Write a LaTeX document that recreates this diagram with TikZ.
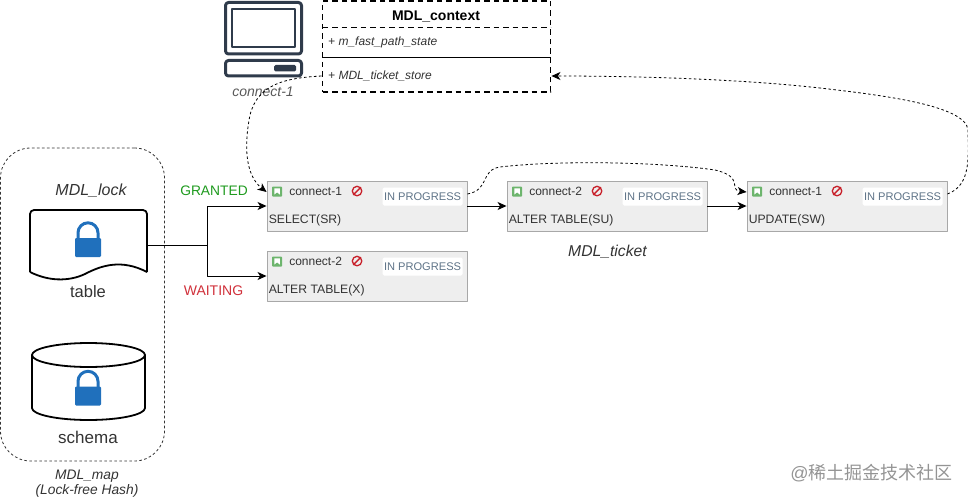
\documentclass[tikz,border=0pt]{standalone}
\usepackage{fontspec}
\setmainfont{Liberation Sans}
\newfontfamily\cjkfont{Noto Sans CJK SC}
\usetikzlibrary{calc,arrows.meta}
\definecolor{cardfill}{HTML}{EEEEEE}
\definecolor{cardline}{HTML}{A8A8A8}
\definecolor{statustext}{HTML}{5E7387}
\definecolor{iconGreen}{HTML}{6DB56D}
\definecolor{stopred}{HTML}{C8202A}
\definecolor{lockblue}{HTML}{2070BC}
\definecolor{screenline}{HTML}{2F3B4B}
\definecolor{grantgreen}{HTML}{1E9A1E}
\definecolor{waitred}{HTML}{D0303A}
\definecolor{darktext}{HTML}{333333}
\tikzset{
  ticketcard/.style={draw=cardline,fill=cardfill,line width=0.9pt,minimum width=200pt,minimum height=50pt,inner sep=0pt},
  statusbox/.style={fill=white,rounded corners=1.5pt,minimum width=80pt,minimum height=18pt,inner sep=0pt,font=\fontsize{11.1}{12}\selectfont,text=statustext},
  iconbox/.style={fill=iconGreen,rounded corners=0.8pt,minimum size=10pt,inner sep=0pt},
  stopsign/.style={circle,draw=stopred,line width=1.3pt,minimum size=9.5pt,inner sep=0pt},
  lockbody/.style={fill=lockblue,rounded corners=1.2pt,minimum width=26pt,minimum height=19pt,inner sep=0pt},
  solidarrow/.style={line width=0.9pt,-{Stealth[length=9pt,width=8pt,inset=2.5pt]}},
  dasharrow/.style={line width=0.8pt,dash pattern=on 2.6pt off 2.4pt,-{Stealth[length=9pt,width=8pt,inset=2.5pt]}},
}
\begin{document}
\begin{tikzpicture}[x=1pt,y=-1pt,line cap=butt,line join=round]
  \useasboundingbox (0,0) rectangle (968,500);
  % map container
  \node[draw=black!80,line width=0.8pt,dash pattern=on 2.6pt off 2.4pt,rounded corners=30pt,minimum width=164pt,minimum height=313pt,inner sep=0pt] (lockmap) at (82.5,304.5) {};
  \node[font=\fontsize{16}{16}\selectfont\itshape,text=darktext,inner sep=0pt] (locktitle) at (91,191) {MDL\_lock};
  \node[font=\fontsize{13.8}{15}\selectfont\itshape,text=darktext,align=center,inner sep=0pt] (maplabel) at (87,483.5) {MDL\_map\\(Lock-free Hash)};
  % table document
  \node[minimum width=117pt,minimum height=70pt,inner sep=0pt] (tabledoc) at (88.5,245) {};
  \draw[line width=1.8pt,rounded corners=4pt] (30,272)--(30,210)--(147,210)--(147,272);
  \draw[line width=1.8pt] (30,272) .. controls (48,281) and (68,282) .. (85,274) .. controls (102,265) and (122,259) .. (147,272);
  \node[font=\fontsize{16.5}{16}\selectfont,text=darktext,inner sep=0pt] (tablelabel) at (88,291.5) {table};
  % schema cylinder
  \draw[line width=1.8pt] (32,355)--(32,408) arc[start angle=180,end angle=0,x radius=56.5,y radius=12]--(145,355);
  \draw[line width=1.8pt] (88.5,355) ellipse[x radius=56.5,y radius=12];
  \node[font=\fontsize{17}{16}\selectfont,text=darktext,inner sep=0pt] (schemalabel) at (88,437.5) {schema};
  % locks
  \foreach \name/\y in {tablelock/247.5,schemalock/396}{
    \node[lockbody] (\name) at (88,\y) {};
    \draw[lockblue,line width=3pt] ($(\name.north)+(-10,1)$)--++(0,-6) arc[start angle=180,end angle=360,radius=10]--++(0,6);
  }
  % terminal
  \draw[screenline,line width=3pt,rounded corners=3pt] (225.5,2.5) rectangle (301.5,54);
  \draw[screenline,line width=2.4pt] (232,9) rectangle (295,47);
  \draw[screenline,line width=3pt,rounded corners=3pt] (225.5,60.5) rectangle (301.5,76);
  \fill[screenline,rounded corners=1.5pt] (274,65) rectangle (296,71.5);
  \node[font=\fontsize{14}{14}\selectfont\itshape,text=black!65,inner sep=0pt] (terminallabel) at (263,92) {connect-1};
  % context box
  \node[draw=black,line width=1.9pt,dash pattern=on 5.5pt off 4pt,minimum width=228pt,minimum height=91pt,inner sep=0pt] (context) at (436.5,46.5) {};
  \draw[line width=1.6pt,dash pattern=on 5.5pt off 4pt] (322.5,27.5)--(550.5,27.5);
  \draw[line width=1pt] (322.5,57.5)--(550.5,57.5);
  \node[font=\fontsize{14}{14}\selectfont\bfseries,inner sep=0pt] (contexttitle) at (436,17) {MDL\_context};
  \node[font=\fontsize{12}{12}\selectfont\itshape,text=darktext,anchor=west,inner sep=0pt] (faststate) at (328,42) {+ m\_fast\_path\_state};
  \node[font=\fontsize{12}{12}\selectfont\itshape,text=darktext,anchor=west,inner sep=0pt] (ticketstore) at (328,76) {+ MDL\_ticket\_store};
  % tickets
  \foreach \name/\x/\y/\who/\sql in {selectcard/367/206/connect-1/SELECT(SR),
      altersu/607/206/connect-2/ALTER TABLE(SU),
      updatecard/847/206/connect-1/UPDATE(SW),
      alterx/367/276/connect-2/ALTER TABLE(X)}{
    \node[ticketcard] (\name) at (\x,\y) {};
    \node[iconbox] (\name-icon) at ($(\name.north west)+(10.5,11)$) {};
    \fill[white] ($(\name-icon)+(-2.8,-3.2)$)--++(5.6,0)--++(0,6.2)--++(-2.8,-2.2)--++(-2.8,2.2)--cycle;
    \node[font=\fontsize{12}{13}\selectfont,text=darktext,anchor=west,inner sep=0pt] (\name-who) at ($(\name.north west)+(22.5,11)$) {\who};
    \node[stopsign] (\name-stop) at ($(\name.north west)+(90.5,10.5)$) {};
    \draw[stopred,line width=1.3pt] (\name-stop.north east)--(\name-stop.south west);
    \node[statusbox] (\name-status) at ($(\name.north west)+(156,16)$) {IN PROGRESS};
    \node[font=\fontsize{12.2}{13}\selectfont,text=darktext,anchor=west,inner sep=0pt] (\name-sql) at ($(\name.north west)+(2,40)$) {\sql};
  }
  \node[font=\fontsize{15.7}{16}\selectfont\itshape,text=darktext,inner sep=0pt] (ticketlabel) at (607.5,252) {MDL\_ticket};
  \node[font=\fontsize{13.8}{14}\selectfont,text=grantgreen,inner sep=0pt] (grantedlabel) at (214,191) {GRANTED};
  \node[font=\fontsize{14}{14}\selectfont,text=waitred,inner sep=0pt] (waitinglabel) at (213.5,291) {WAITING};
  % solid edges
  \coordinate (lockfork) at (207,245);
  \draw[line width=0.9pt] (tabledoc.east)--(lockfork);
  \draw[solidarrow] (lockfork)|-(selectcard.west);
  \draw[solidarrow] (lockfork)|-(alterx.west);
  \draw[solidarrow] (selectcard.east)--(altersu.west);
  \draw[solidarrow] (altersu.east)--(updatecard.west);
  % dashed edges
  \coordinate (selectin) at ($(selectcard.west)+(0,-14)$);
  \coordinate (updatein) at ($(updatecard.west)+(0,-14)$);
  \coordinate (selectout) at ($(selectcard.east)+(0,-12)$);
  \coordinate (updateout) at ($(updatecard.east)+(0,-12)$);
  \draw[dasharrow] (context.west|-ticketstore) .. controls (285,78) and (258,84) .. (250,115) .. controls (244,145) and (245,175) .. (selectin);
  \draw[dasharrow] (selectout) .. controls (490,190) and (480,170) .. (500,167) .. controls (560,160) and (660,162) .. (715,170) .. controls (745,177) and (728,190) .. (updatein);
  \draw[dasharrow] (updateout) .. controls (972,185) and (968,155) .. (968,130) .. controls (966,105) and (880,95) .. (820,88) .. controls (730,78) and (620,76) .. (context.east|-ticketstore);
  % watermark
  \node[font=\fontsize{18}{18}\selectfont,text=black!42,inner sep=0pt] (watermark) at (871.5,473) {@{\cjkfont 稀土掘金技术社区}};
\end{tikzpicture}
\end{document}
